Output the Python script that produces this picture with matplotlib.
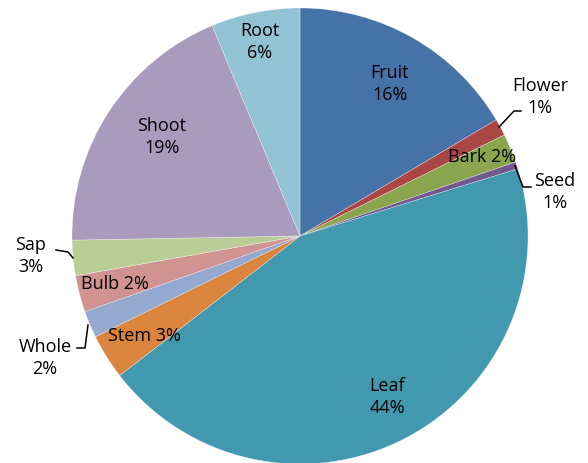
import matplotlib.pyplot as plt

plt.rcParams['font.family'] = ['Open Sans', 'DejaVu Sans']

# data (share of each plant part)
parts = ['Fruit', 'Flower', 'Bark', 'Seed', 'Leaf', 'Stem',
         'Whole', 'Bulb', 'Sap', 'Shoot', 'Root']
shares = [16.5, 1.2, 2.05, 0.5, 44.3, 3.2, 1.9, 2.6, 2.5, 19.0, 6.3]
labels = ['Fruit\n16%', 'Flower\n1%', 'Bark 2%', 'Seed\n1%', 'Leaf\n44%',
          'Stem 3%', 'Whole\n2%', 'Bulb 2%', 'Sap\n3%', 'Shoot\n19%', 'Root\n6%']
colors = ['#4572A7', '#AA4643', '#89A54E', '#71588F', '#4198AF', '#DB843D',
          '#93A9CF', '#D19392', '#B9CD96', '#A99BBD', '#92C3D5']

# layout in pixels of the 588x463 image
W, H = 588, 463
CX, CY, R = 300, 236, 228
label_px = [(390, 84), (540, 97), (482, 157), (555, 192), (387, 397),
            (144, 336), (45, 358), (115, 284), (31, 256), (162, 137), (260, 42)]
leaders = {
    'Flower': [(499, 127), (514, 111), (521, 111)],
    'Seed': [(515, 166), (523, 187), (531, 187)],
    'Sap': [(73, 258), (68, 252), (56, 250)],
    'Whole': [(88, 325), (85, 348), (77, 348)],
}


def px(x, y):
    return (x - CX) / R, (CY - y) / R


fig = plt.figure(figsize=(W / 100, H / 100), dpi=100)
ax = fig.add_axes([0, 0, 1, 1])

ax.pie(shares, colors=colors, startangle=90, counterclock=False,
       radius=1, center=(0, 0), frame=True,
       wedgeprops=dict(linewidth=0.4, edgecolor=(1, 1, 1, 0.5)))
ax.set_xlim(-CX / R, (W - CX) / R)
ax.set_ylim(-(H - CY) / R, CY / R)
ax.set_aspect('auto')
ax.axis('off')

for lab, (x, y) in zip(labels, label_px):
    tx, ty = px(x, y)
    ax.text(tx, ty, lab, ha='center', va='center', fontsize=13,
            color='black', linespacing=1.3)

for name, pts in leaders.items():
    xs, ys = zip(*[px(x, y) for x, y in pts])
    ax.plot(xs, ys, color='black', lw=1.1)

fig.savefig('out.png', dpi=100)
